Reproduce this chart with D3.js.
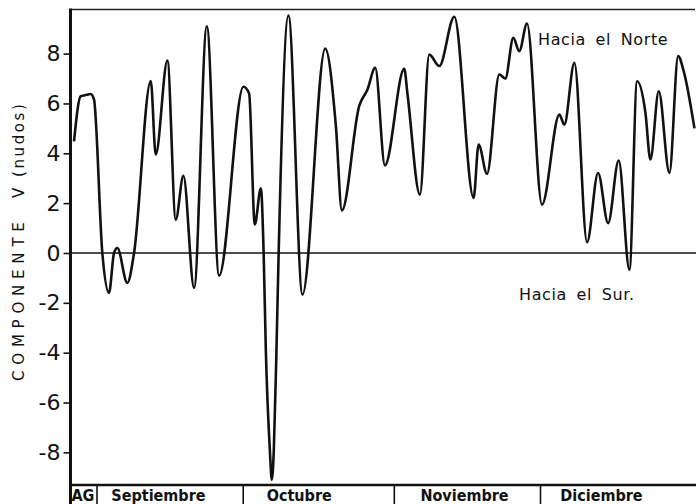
<!DOCTYPE html>
<html>
<head>
<meta charset="utf-8">
<script src="https://cdn.jsdelivr.net/npm/d3@7"></script>
<style>
	body { margin: 0; background: #fff; }
	svg { display: block; }
	.tick text { font-family: "DejaVu Sans", sans-serif; font-size: 22px; fill: #111; }
	.tick line { stroke: #111; stroke-width: 1.6; }
	.note { font-family: "DejaVu Sans", sans-serif; font-size: 16px; fill: #111; letter-spacing: 0.6px; word-spacing: 4px; }
	.month { font-family: "DejaVu Sans Condensed", "Liberation Sans Narrow", sans-serif; font-weight: bold; font-size: 16px; fill: #111; }
	.ylab { font-family: "DejaVu Sans", sans-serif; font-size: 15px; fill: #111; }
</style>
</head>
<body>
<svg id="chart"></svg>
<script>
// dias desde el 1 de septiembre, componente V en nudos
const dias = [
	-4.72, -3.35, -2.46, -1.29, -0.62, 1.09, 2.46, 3.49, 4.17, 6.22,
	7.6, 11.03, 12.05, 14.44, 16.16, 17.72, 19.92, 22.53, 25.05, 30.04,
	31.21, 32.38, 33.61, 34.19, 34.64, 35.46, 35.87, 36.28, 36.82, 37.27,
	39.28, 42.16, 46.82, 49.01, 50.25, 53.8, 55.5, 57.08, 59.08, 63.04,
	63.72, 66.26, 68.17, 70.23, 73.31, 77.27, 78.3, 80.02, 82.55, 83.78,
	85.42, 86.65, 88.23, 91.31, 94.87, 95.89, 97.95, 100.55, 102.81, 104.87,
	107.04, 109.24, 110.82, 112.53, 113.55, 115.26, 117.45, 119.24, 120.39, 122.59
];
const componenteV = [
	4.48, 6.29, 6.33, 6.38, 6.16, 0, -1.6, 0, 0.2, -1.2,
	0, 6.9, 3.95, 7.72, 1.34, 3.1, -1.4, 9.1, -0.91, 6.67,
	6.4, 1.14, 2.6, 0, -3.9, -7.9, -9.1, -7.9, -3.9, 0,
	9.53, -1.67, 8.2, 5.1, 1.71, 5.9, 6.56, 7.43, 3.52, 7.39,
	6.35, 2.34, 7.96, 7.5, 9.48, 2.21, 4.35, 3.18, 7.16, 7.0,
	8.63, 8.1, 9.21, 1.94, 5.55, 5.15, 7.63, 0.43, 3.21, 1.2,
	3.71, -0.67, 6.89, 5.62, 3.75, 6.49, 3.21, 7.9, 7.29, 5.0
];

const meses = ["AG", "Septiembre", "Octubre", "Noviembre", "Diciembre"];
const inicioMes = [0, 30, 61, 91];
const centroEtiqueta = [-2.9, 12.6, 41.5, 75.4, 103.5];
const yTicks = [-8, -6, -4, -2, 0, 2, 4, 6, 8];

const size = { width: 696, height: 504 };
const plot = { left: 70.5, right: 695, top: 9.5, bottom: 485 };

const svg = d3.select("#chart")
	.attr("width", size.width)
	.attr("height", size.height);

const x = d3.scaleLinear()
	.domain([-5.44, 122.7])
	.range([plot.left, plot.right]);

const y = d3.scaleLinear()
	.domain([-9.31, 9.77])
	.range([plot.bottom, plot.top]);

// eje y
const yAxis = d3.axisLeft(y)
	.tickValues(yTicks)
	.tickSize(7)
	.tickPadding(3)
	.tickFormat(d => String(d));

svg.append("g")
	.attr("class", "y axis")
	.attr("transform", `translate(${plot.left},0)`)
	.call(yAxis)
	.call(g => g.select(".domain").remove());

// marco
svg.append("line")
	.attr("x1", plot.left).attr("x2", plot.right)
	.attr("y1", plot.top).attr("y2", plot.top)
	.attr("stroke", "#222").attr("stroke-width", 1.4);

svg.append("line")
	.attr("x1", plot.left).attr("x2", size.width)
	.attr("y1", y(0)).attr("y2", y(0))
	.attr("stroke", "#111").attr("stroke-width", 1.5);

svg.append("line")
	.attr("x1", plot.left).attr("x2", size.width)
	.attr("y1", plot.bottom).attr("y2", plot.bottom)
	.attr("stroke", "#111").attr("stroke-width", 2.4);

svg.append("line")
	.attr("x1", plot.left).attr("x2", plot.left)
	.attr("y1", plot.top - 1).attr("y2", size.height)
	.attr("stroke", "#111").attr("stroke-width", 3);

// curva
const line = d3.line()
	.x(i => x(dias[i]))
	.y(i => y(componenteV[i]))
	.curve(d3.curveMonotoneX);

svg.append("path")
	.attr("d", line(d3.range(dias.length)))
	.attr("fill", "none")
	.attr("stroke", "#111")
	.attr("stroke-width", 2.6)
	.attr("stroke-linejoin", "round");

// banda de meses
svg.selectAll(".sep")
	.data(inicioMes)
	.join("line")
	.attr("class", "sep")
	.attr("x1", d => x(d)).attr("x2", d => x(d))
	.attr("y1", plot.bottom).attr("y2", size.height)
	.attr("stroke", "#111").attr("stroke-width", 1.6);

svg.selectAll(".month")
	.data(meses)
	.join("text")
	.attr("class", "month")
	.attr("x", (d, i) => x(centroEtiqueta[i]))
	.attr("y", 501)
	.attr("text-anchor", "middle")
	.text(d => d);

// textos
svg.append("text").attr("class", "note")
	.attr("x", 538).attr("y", 45)
	.text("Hacia el Norte");

svg.append("text").attr("class", "note")
	.attr("x", 519).attr("y", 300)
	.text("Hacia el Sur.");

const ylab = [
	{ t: "COMPONENTE", y: 381, ls: 5.8 },
	{ t: "V", y: 198, ls: 0 },
	{ t: "(nudos)", y: 177, ls: 2.6 }
];
svg.selectAll(".ylab")
	.data(ylab)
	.join("text")
	.attr("class", "ylab")
	.attr("transform", d => `translate(24,${d.y}) rotate(-90)`)
	.style("letter-spacing", d => `${d.ls}px`)
	.text(d => d.t);
</script>
</body>
</html>
